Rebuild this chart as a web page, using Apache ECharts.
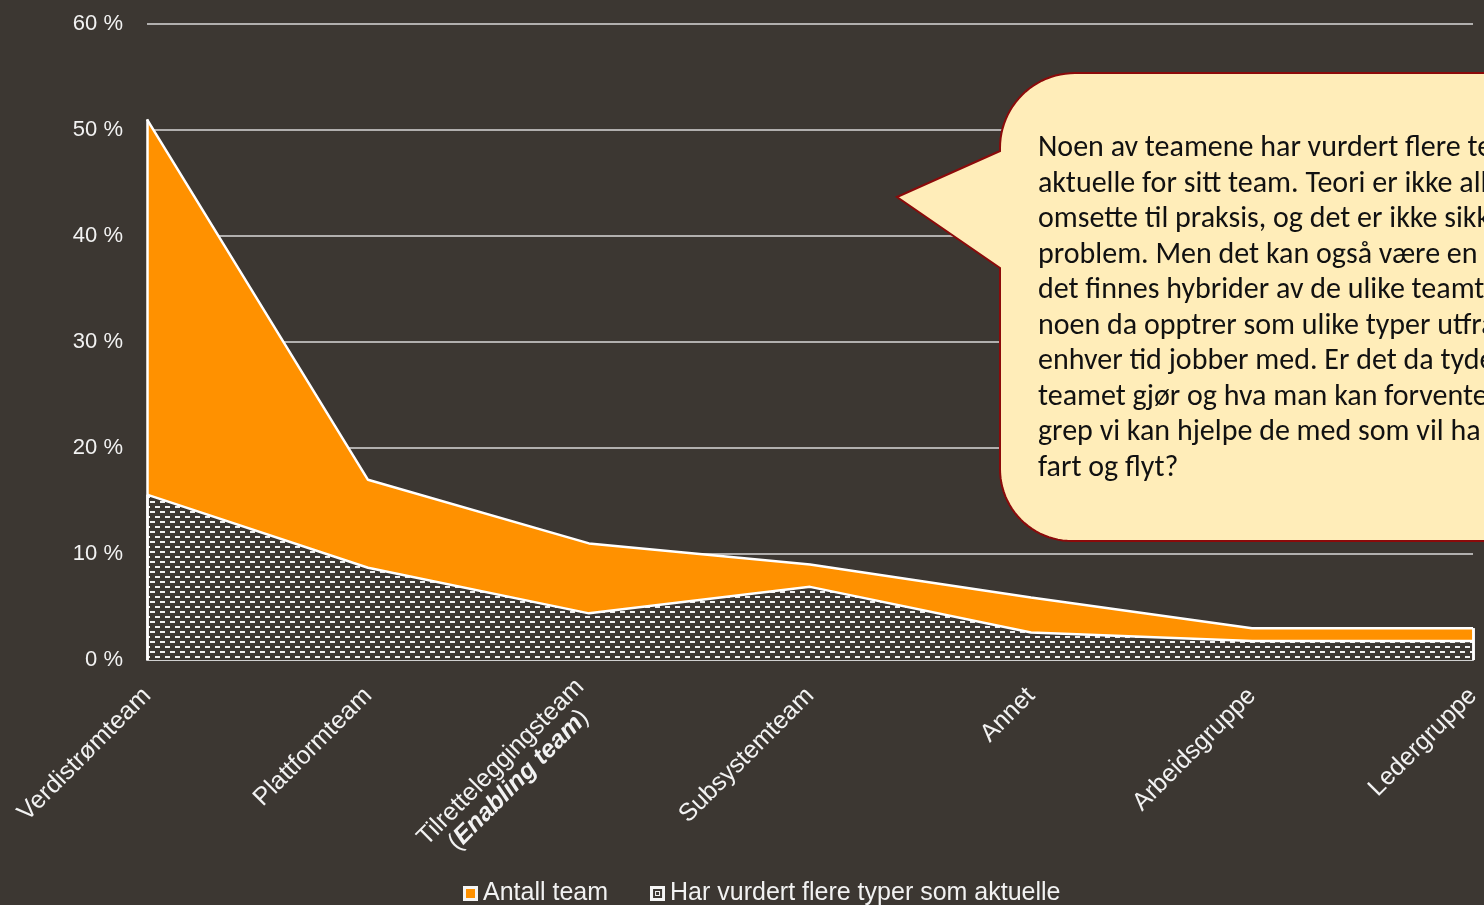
<!DOCTYPE html>
<html>
<head>
<meta charset="utf-8">
<script src="https://cdn.jsdelivr.net/npm/echarts@6/dist/echarts.min.js"></script>
<style>
html,body{margin:0;padding:0;background:#3c3732;}
#chart{width:1484px;height:905px;}
</style>
</head>
<body>
<div id="chart"></div>
<script>
// ---- data ----
const categories = ['Verdistrømteam', 'Plattformteam', 'Tilretteleggingsteam', 'Subsystemteam', 'Annet', 'Arbeidsgruppe', 'Ledergruppe'];
const antallTeam = [51, 17, 11, 9, 5.9, 3, 3];
const flereTyper = [15.6, 8.7, 4.4, 6.9, 2.6, 1.8, 1.8];
const yTicks = [0, 10, 20, 30, 40, 50, 60];
const seriesNames = ['Antall team', 'Har vurdert flere typer som aktuelle'];
const calloutText = [
  'Noen av teamene har vurdert flere teamtyper som',
  'aktuelle for sitt team. Teori er ikke alltid lett å',
  'omsette til praksis, og det er ikke sikkert det er et',
  'problem. Men det kan også være en indikasjon på at',
  'det finnes hybrider av de ulike teamtypene, eller at',
  'noen da opptrer som ulike typer utfra hva de til',
  'enhver tid jobber med. Er det da tydelig hva',
  'teamet gjør og hva man kan forvente av de? Hvilke',
  'grep vi kan hjelpe de med som vil ha positiv effekt på',
  'fart og flyt?'
];

const BG = '#3c3732';
const ORANGE = '#ff9100';

// hatch pattern
const pat = document.createElement('canvas');
pat.width = 10; pat.height = 10;
(function(){
  const g = pat.getContext('2d');
  g.fillStyle = BG; g.fillRect(0,0,10,10);
  g.fillStyle = '#f2f2f2';
  g.fillRect(0,1,5,2);
  g.fillRect(5,6,5,2);
})();

function iconCanvas(kind){
  const c = document.createElement('canvas');
  c.width = 15; c.height = 15;
  const g = c.getContext('2d');
  g.fillStyle = '#f5f5f5'; g.fillRect(0,0,15,15);
  if (kind === 'orange') {
    g.fillStyle = ORANGE; g.fillRect(3,3,9,9);
  } else {
    g.fillStyle = BG; g.fillRect(3,3,9,9);
    g.fillStyle = '#f5f5f5'; g.fillRect(5,5,5,5);
    g.fillStyle = BG; g.fillRect(6,6,3,3);
  }
  return 'image://' + c.toDataURL();
}

// speech bubble outline (annotation shape)
function arcPts(cx, cy, r, a0, a1, n){
  const pts = [];
  for (let i = 0; i <= n; i++) {
    const a = (a0 + (a1 - a0) * i / n) * Math.PI / 180;
    pts.push([cx + r * Math.cos(a), cy + r * Math.sin(a)]);
  }
  return pts;
}
const bubble = [].concat(
  [[1075, 73], [1620, 73], [1620, 541], [1072, 541]],
  arcPts(1072, 469, 72, 90, 180, 24),
  [[1000, 268], [897, 197], [1000, 151]],
  arcPts(1075, 148, 75, 180, 270, 24)
);

const chart = echarts.init(document.getElementById('chart'), null, {renderer:'canvas'});

const labelFont = '"Liberation Sans", Arial, sans-serif';
const LBL = 25;

const option = {
  backgroundColor: BG,
  animation: false,
  grid: {left: 147, right: 8, top: 24, bottom: 245, containLabel: false},
  legend: {
    left: 458, top: 876,
    itemWidth: 15, itemHeight: 15, itemGap: 42,
    textStyle: {color: '#f2f2f2', fontSize: LBL, fontFamily: labelFont},
    data: [
      {name: seriesNames[0], icon: iconCanvas('orange')},
      {name: seriesNames[1], icon: iconCanvas('hatch')}
    ]
  },
  xAxis: {
    type: 'category',
    data: categories,
    boundaryGap: false,
    axisLine: {show: true, lineStyle: {color: '#d0d0d0', width: 2}},
    axisTick: {show: false},
    axisLabel: {
      rotate: 45,
      interval: 0,
      margin: 32,
      color: '#f2f2f2',
      fontSize: LBL,
      fontFamily: labelFont,
      formatter: function(v){
        if (v === 'Tilretteleggingsteam') {
          return '{n|Tilretteleggingsteam}\n{n|(}{b|Enabling team}{n|)}';
        }
        return v;
      },
      rich: {
        n: {color: '#f2f2f2', fontSize: LBL, fontFamily: labelFont, align: 'center'},
        b: {color: '#f2f2f2', fontSize: LBL, fontFamily: labelFont, fontWeight: 'bold', fontStyle: 'italic', align: 'center'}
      }
    },
    splitLine: {show: false}
  },
  yAxis: {
    type: 'value',
    min: yTicks[0],
    max: yTicks[yTicks.length - 1],
    interval: 10,
    axisLine: {show: false},
    axisTick: {show: false},
    axisLabel: {
      color: '#f2f2f2', fontSize: 22, fontFamily: labelFont, margin: 24,
      formatter: '{value} %'
    },
    splitLine: {lineStyle: {color: '#d9d9d9', width: 1.5}}
  },
  series: [
    {
      name: seriesNames[0],
      type: 'line',
      data: antallTeam,
      symbol: 'none',
      lineStyle: {color: '#ffffff', width: 2.5},
      itemStyle: {color: ORANGE},
      areaStyle: {color: ORANGE, opacity: 1},
      z: 2,
      markLine: {
        silent: true, symbol: 'none', label: {show: false},
        lineStyle: {color: '#ffffff', width: 2.5, type: 'solid'},
        data: [
          [{coord: [categories[0], 0]}, {coord: [categories[0], antallTeam[0]]}],
          [{coord: [categories[6], 0]}, {coord: [categories[6], antallTeam[6]]}]
        ]
      }
    },
    {
      name: seriesNames[1],
      type: 'line',
      data: flereTyper,
      symbol: 'none',
      lineStyle: {color: '#ffffff', width: 2.5},
      itemStyle: {color: '#888'},
      areaStyle: {color: {image: pat, repeat: 'repeat'}, opacity: 1},
      z: 3,
      markLine: {
        silent: true, symbol: 'none', label: {show: false},
        lineStyle: {color: '#ffffff', width: 2.5, type: 'solid'},
        data: [
          [{coord: [categories[0], 0]}, {coord: [categories[0], flereTyper[0]]}],
          [{coord: [categories[6], 0]}, {coord: [categories[6], antallTeam[6]]}]
        ]
      }
    }
  ],
  graphic: [
    {
      type: 'polygon',
      z: 100,
      shape: {points: bubble},
      style: {fill: '#ffedb9', stroke: '#8b0a0a', lineWidth: 2}
    },
    {
      type: 'text',
      z: 101,
      style: {
        x: 1038, y: 131,
        text: calloutText.join('\n'),
        font: '30px Carlito, "Open Sans", Lato, sans-serif',
        lineHeight: 35.5,
        fill: '#111111',
        verticalAlign: 'top'
      }
    }
  ]
};
chart.setOption(option);
</script>
</body>
</html>
